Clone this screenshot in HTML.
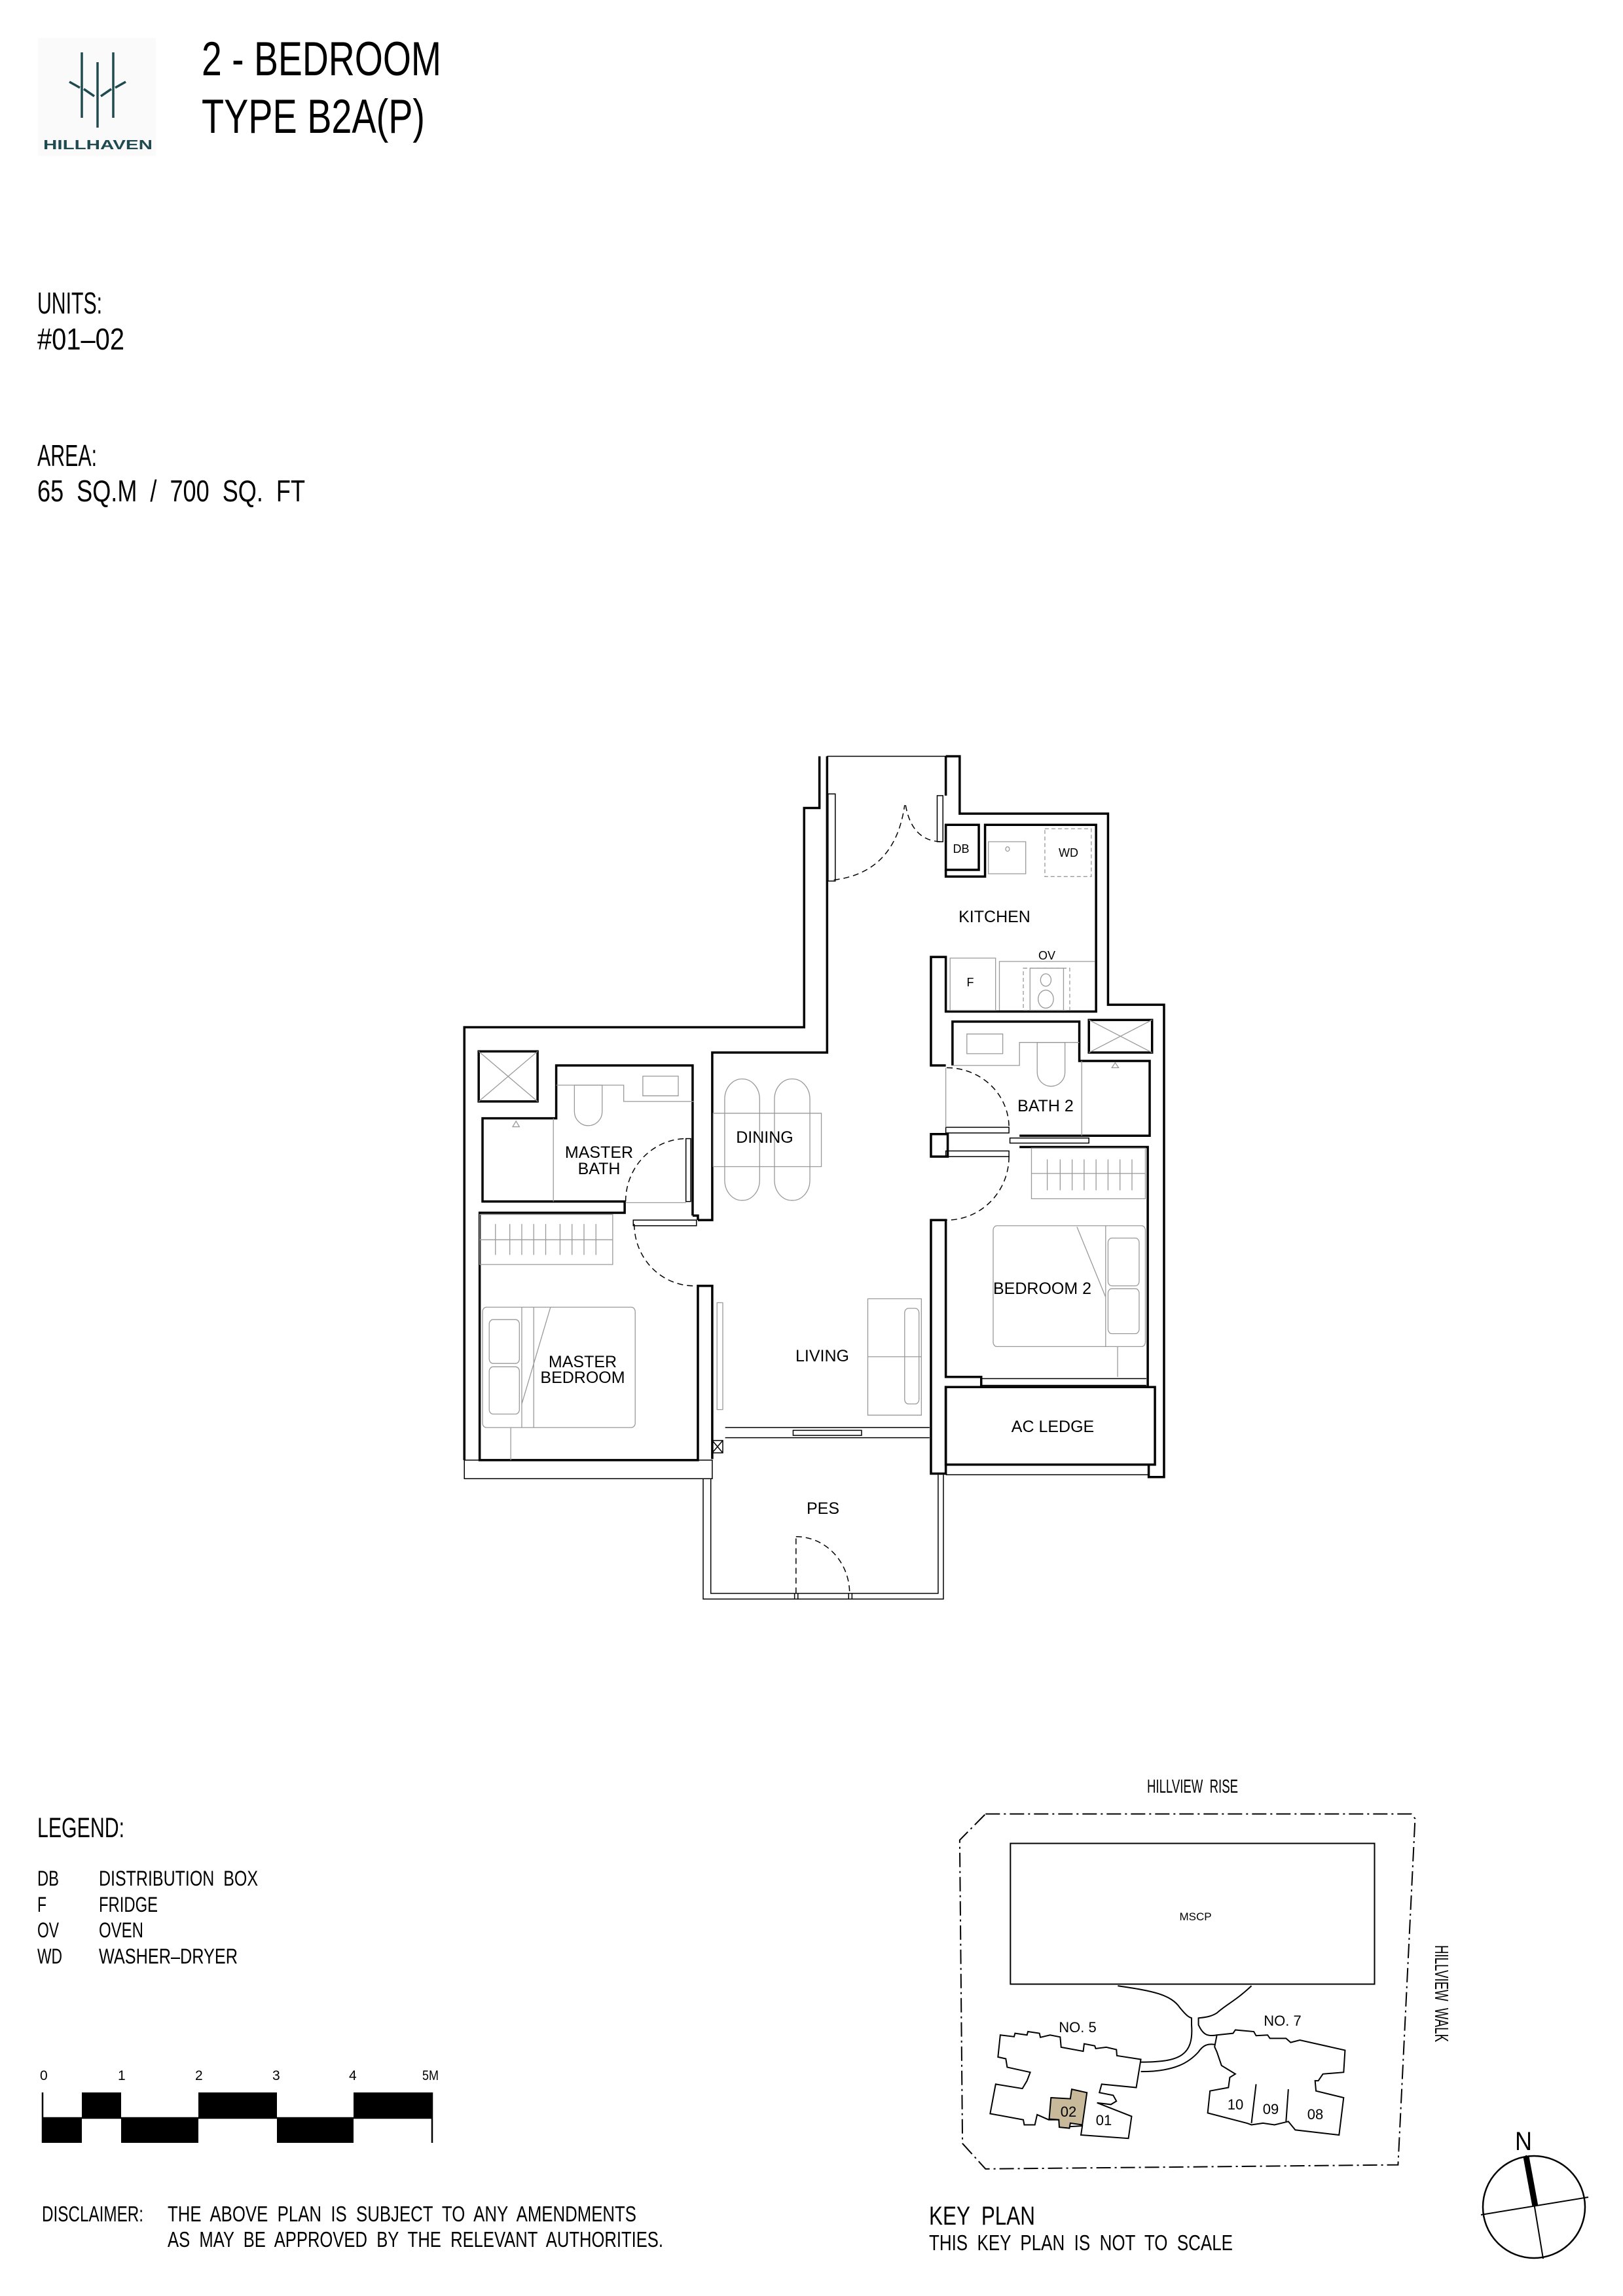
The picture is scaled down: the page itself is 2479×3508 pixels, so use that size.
<!DOCTYPE html>
<html><head><meta charset="utf-8"><style>
html,body{margin:0;padding:0;background:#fff}
svg{display:block}
text{font-family:"Liberation Sans",sans-serif;fill:#000}
.w{fill:none;stroke:#000;stroke-width:3.5;vector-effect:non-scaling-stroke;stroke-linejoin:miter}
.t{fill:none;stroke:#000;stroke-width:1.5;vector-effect:non-scaling-stroke}
.g{fill:none;stroke:#999;stroke-width:1.3;vector-effect:non-scaling-stroke}
.d{fill:none;stroke:#000;stroke-width:1.5;stroke-dasharray:9 6;vector-effect:non-scaling-stroke}
.gd{fill:none;stroke:#999;stroke-width:1.3;stroke-dasharray:6 4;vector-effect:non-scaling-stroke}
.k{fill:none;stroke:#000;stroke-width:2;vector-effect:non-scaling-stroke}
.kd{fill:none;stroke:#000;stroke-width:2;stroke-dasharray:22 6 3 6;vector-effect:non-scaling-stroke}
</style></head><body>
<svg width="2479" height="3508" viewBox="0 0 2479 3508" xmlns="http://www.w3.org/2000/svg">
<!-- Logo -->
<rect x="58" y="58" width="180" height="180" fill="#fafafa"/>
<g stroke="#1f4a50" stroke-width="3.5" fill="none">
<line x1="125" y1="80" x2="125" y2="180"/>
<line x1="149" y1="95" x2="149" y2="195"/>
<line x1="173" y1="80" x2="173" y2="180"/>
<line x1="106" y1="125" x2="122" y2="134"/>
<line x1="128" y1="136" x2="144" y2="147"/>
<line x1="154" y1="147" x2="170" y2="136"/>
<line x1="176" y1="134" x2="192" y2="125"/>
</g>
<text x="66" y="228" font-size="20" textLength="167" lengthAdjust="spacingAndGlyphs" style="fill:#1f4a50;font-weight:bold">HILLHAVEN</text>
<!-- Title -->
<text x="308" y="115" font-size="73" textLength="366" lengthAdjust="spacingAndGlyphs">2 - BEDROOM</text>
<text x="308" y="203" font-size="73" textLength="341" lengthAdjust="spacingAndGlyphs">TYPE B2A(P)</text>
<!-- Units / area -->
<text x="57" y="479" font-size="46" textLength="99" lengthAdjust="spacingAndGlyphs">UNITS:</text>
<text x="57" y="534" font-size="46" textLength="133" lengthAdjust="spacingAndGlyphs">#01–02</text>
<text x="57" y="712" font-size="46" textLength="91" lengthAdjust="spacingAndGlyphs">AREA:</text>
<text x="57" y="766" font-size="46" textLength="409" lengthAdjust="spacingAndGlyphs" xml:space="preserve">65  SQ.M  /  700  SQ.  FT</text>

<!-- FLOOR PLAN (drawn in zoom coords) -->
<g transform="translate(680,1140) scale(0.731,0.859)">
<path class="w" d="M782,18 V110 H750 V500 H40 V1270"/>
<path class="w" d="M798,18 V545 H558 V843 H528"/>
<path class="t" d="M798,18 H1046"/>
<path class="w" d="M517,835 V568 H232 V662 H78 V810 H375 V830 H72 V1270 H528 V960 H558 V1268"/>
<path class="w" d="M517,835 H528 V843"/>
<rect class="t" x="558" y="1235" width="22" height="22"/>
<path class="t" d="M558,1235 L580,1257 M580,1235 L558,1257"/>
<rect class="t" x="40" y="1270" width="518" height="33"/>
<line class="t" x1="72" y1="1303" x2="528" y2="1303"/>
<rect class="w" x="70" y="543" width="123" height="89"/>
<path class="g" d="M70,543 L193,632 M193,543 L70,632"/>
<rect class="w" x="1345" y="487" width="132" height="58"/>
<path class="g" d="M1345,487 L1477,545 M1477,487 L1345,545"/>
<rect class="t" x="503" y="698" width="10" height="112"/>
<path class="d" d="M377,810 A128,112 0 0 1 505,698"/>
<line class="g" x1="377" y1="812" x2="503" y2="812"/>
<rect class="t" x="393" y="843" width="132" height="10"/>
<path class="d" d="M395,850 A125,110 0 0 0 520,960"/>
<rect class="t" x="800" y="85" width="15" height="155"/>
<path class="d" d="M812,238 Q940,225 960,105"/>
<rect class="t" x="1028" y="88" width="12" height="82"/>
<path class="d" d="M962,105 Q975,168 1035,170"/>
<path class="w" d="M1046,18 H1075 V120 H1385 V460 H1502 V1300 H1470 V1278"/>
<path class="w" d="M1046,18 V88 M1046,140 H1115 V220 H1046 Z"/>
<path class="w" d="M1046,220 V232 H1128 V140 H1360 V472 H1046 V375 H1015 V568 H1046"/>
<path class="w" d="M1060,568 V490 H1325 V560 H1472 V693 H1200"/>
<path class="w" d="M1200,713 H1468 V1140"/>
<rect class="w" x="1015" y="690" width="35" height="40"/>
<rect class="t" x="1046" y="678" width="132" height="10"/>
<rect class="t" x="1046" y="720" width="132" height="10"/>
<path class="d" d="M1048,572 A130,106 0 0 1 1178,678"/>
<path class="d" d="M1178,730 A130,113 0 0 1 1046,843"/>
<rect class="t" x="1180" y="697" width="165" height="9"/>
<line class="g" x1="1046" y1="572" x2="1046" y2="678"/>
<path class="w" d="M1015,843 H1046 V1122 H1120 V1140 H1046 V1294 H1015 Z"/>
<rect class="w" x="1046" y="1140" width="437" height="138"/>
<path class="t" d="M1120,1125 H1465 M1120,1137 H1465"/>
<line class="t" x1="1046" y1="1296" x2="1470" y2="1296"/>
<path class="t" d="M585,1212 H1012 M585,1230 H1012"/>
<rect class="t" x="727" y="1217" width="143" height="9"/>
<!-- PES -->
<path class="t" d="M539,1303 V1517 H1041 V1296"/>
<path class="t" d="M555,1303 V1507 H1030 V1296"/>
<path class="t" d="M730,1507 V1517 M737,1507 V1517 M843,1507 V1517 M850,1507 V1517"/>
<path class="d" d="M733,1507 V1406"/>
<path class="d" d="M733,1406 A112,101 0 0 1 845,1507"/>
<!-- furniture -->
<rect class="g" x="560" y="653" width="226" height="95"/>
<rect class="g" x="584" y="592" width="73" height="216" rx="36"/>
<rect class="g" x="688" y="592" width="74" height="216" rx="36"/>
<rect class="g" x="78" y="998" width="319" height="214" rx="8"/>
<rect class="g" x="92" y="1020" width="63" height="78" rx="8"/>
<rect class="g" x="92" y="1104" width="63" height="84" rx="8"/>
<path class="g" d="M160,998 V1212 M160,1170 L220,998 M137,1212 V1270 M185,998 V1212"/>
<rect class="g" x="72" y="833" width="278" height="89"/>
<path class="g" d="M72,878 H350 M105,850 V905 M135,850 V905 M160,850 V905 M185,850 V905 M210,850 V905 M240,850 V905 M265,850 V905 M290,850 V905 M315,850 V905"/>
<rect class="g" x="883" y="983" width="112" height="207"/>
<rect class="g" x="960" y="1000" width="30" height="170" rx="8"/>
<line class="g" x1="883" y1="1086" x2="995" y2="1086"/>
<rect class="g" x="568" y="990" width="12" height="190"/>
<rect class="g" x="1145" y="853" width="318" height="215" rx="8"/>
<rect class="g" x="1385" y="875" width="65" height="85" rx="8"/>
<rect class="g" x="1385" y="965" width="65" height="80" rx="8"/>
<path class="g" d="M1380,853 V1068 M1320,855 L1380,980 M1405,1068 V1122"/>
<rect class="g" x="1225" y="715" width="238" height="90"/>
<path class="g" d="M1225,760 H1463 M1258,735 V790 M1285,735 V790 M1310,735 V790 M1335,735 V790 M1360,735 V790 M1385,735 V790 M1410,735 V790 M1435,735 V790"/>
<rect class="g" x="1135" y="170" width="78" height="57"/>
<circle class="g" cx="1175" cy="183" r="4"/>
<rect class="gd" x="1253" y="147" width="97" height="85"/>
<rect class="g" x="1055" y="377" width="95" height="93"/>
<path class="g" d="M1158,470 V383 H1358"/>
<rect class="gd" x="1208" y="395" width="97" height="75"/>
<rect class="g" x="1222" y="395" width="70" height="75"/>
<circle class="g" cx="1255" cy="416" r="11"/>
<circle class="g" cx="1255" cy="450" r="16"/>
<rect class="g" x="1090" y="512" width="75" height="35"/>
<path class="g" d="M1062,568 H1200 V527 H1325"/>
<path class="g" d="M1237,527 H1295 V580 A29,25 0 0 1 1237,580 Z"/>
<line class="g" x1="1330" y1="560" x2="1330" y2="693"/>
<path class="g" d="M1393,572 L1400,563 L1407,572 Z"/>
<rect class="g" x="413" y="587" width="74" height="35"/>
<path class="g" d="M232,603 H373 V632 H520"/>
<path class="g" d="M270,603 H328 V650 A29,25 0 0 1 270,650 Z"/>
<line class="g" x1="226" y1="662" x2="226" y2="810"/>
<path class="g" d="M141,677 L148,667 L155,677 Z"/>
</g>
<g font-size="18" text-anchor="middle">
<text x="1468" y="1303">DB</text>
<text x="1632" y="1309">WD</text>
<text x="1599" y="1466">OV</text>
<text x="1482" y="1507">F</text>
</g>
<g font-size="25" text-anchor="middle">
<text x="1519" y="1409">KITCHEN</text>
<text x="1168" y="1746">DINING</text>
<text x="915" y="1769">MASTER</text>
<text x="915" y="1794">BATH</text>
<text x="1597" y="1698">BATH 2</text>
<text x="1592" y="1977">BEDROOM 2</text>
<text x="1256" y="2080">LIVING</text>
<text x="890" y="2089">MASTER</text>
<text x="890" y="2113">BEDROOM</text>
<text x="1608" y="2188">AC LEDGE</text>
<text x="1257" y="2313">PES</text>
</g>

<!-- LEGEND -->
<text x="57" y="2807" font-size="43" textLength="133" lengthAdjust="spacingAndGlyphs">LEGEND:</text>
<g font-size="32">
<text x="57" y="2881" textLength="33" lengthAdjust="spacingAndGlyphs">DB</text>
<text x="151" y="2881" textLength="243" lengthAdjust="spacingAndGlyphs" xml:space="preserve">DISTRIBUTION  BOX</text>
<text x="57" y="2921" textLength="14" lengthAdjust="spacingAndGlyphs">F</text>
<text x="151" y="2921" textLength="90" lengthAdjust="spacingAndGlyphs">FRIDGE</text>
<text x="57" y="2960" textLength="33" lengthAdjust="spacingAndGlyphs">OV</text>
<text x="151" y="2960" textLength="68" lengthAdjust="spacingAndGlyphs">OVEN</text>
<text x="57" y="3000" textLength="38" lengthAdjust="spacingAndGlyphs">WD</text>
<text x="151" y="3000" textLength="212" lengthAdjust="spacingAndGlyphs">WASHER–DRYER</text>
</g>
<g font-size="21">
<text x="61" y="3178">0</text><text x="180" y="3178">1</text><text x="298" y="3178">2</text>
<text x="416" y="3178">3</text><text x="533" y="3178">4</text><text x="645" y="3178" textLength="25" lengthAdjust="spacingAndGlyphs">5M</text>
</g>
<g fill="#000">
<rect x="125" y="3197" width="60" height="39"/><rect x="303" y="3197" width="120" height="39"/><rect x="540" y="3197" width="120" height="39"/>
<rect x="65" y="3236" width="60" height="38"/><rect x="185" y="3236" width="118" height="38"/><rect x="423" y="3236" width="117" height="38"/>
</g>
<path d="M65,3197 V3274 M65,3236 H660 M660,3197 V3274" stroke="#000" stroke-width="2.5" fill="none"/>
<g font-size="33">
<text x="64" y="3394" textLength="155" lengthAdjust="spacingAndGlyphs">DISCLAIMER:</text>
<text x="256" y="3394" textLength="716" lengthAdjust="spacingAndGlyphs" xml:space="preserve">THE  ABOVE  PLAN  IS  SUBJECT  TO  ANY  AMENDMENTS</text>
<text x="256" y="3433" textLength="757" lengthAdjust="spacingAndGlyphs" xml:space="preserve">AS  MAY  BE  APPROVED  BY  THE  RELEVANT  AUTHORITIES.</text>
</g>

<!-- KEY PLAN -->
<text x="1752" y="2739" font-size="29" textLength="139" lengthAdjust="spacingAndGlyphs" xml:space="preserve">HILLVIEW  RISE</text>
<g transform="translate(1380,2700) scale(0.704,0.518)">
<path class="kd" d="M178,138 H1102 L1110,152 L1073,1173 L178,1185 L128,1110 L122,215 Z"/>
<rect class="k" x="232" y="225" width="790" height="415"/>
<path class="k" d="M465,645 C540,660 580,670 600,710 C615,735 620,738 625,740 V760 C630,850 600,870 515,870"/>
<path class="k" d="M755,645 C720,690 700,700 680,725 C665,738 650,738 640,740 V760 C650,790 660,795 680,790"/>
<path class="k" d="M515,898 C590,898 620,870 640,840 C650,820 660,815 675,818"/>
<path class="k" d="M210,790 L240,795 L242,785 L268,790 L270,780 L295,785 L297,797 L318,790 L340,796 L342,826 L390,838 L392,816 L415,822 L417,830 L440,826 L462,833 L463,851 L515,862 L505,945 L430,935 L425,960 L455,968 L462,985 L450,995 L420,990 L495,1030 L488,1095 L385,1085 L388,1058 L340,1062 L337,1040 L315,1040 L290,1025 L285,1055 L262,1055 L260,1040 L188,1022 L200,935 L258,948 L268,925 L275,900 L225,885 L222,860 L205,855 Z"/>
<path d="M320,975 L362,978 L365,950 L398,960 L388,1055 L362,1050 L360,1065 L338,1062 L337,1040 L316,1038 Z" fill="#c8b99a" stroke="#000" stroke-width="2" vector-effect="non-scaling-stroke"/>
<path class="k" d="M680,790 L715,785 L720,775 L760,780 L765,792 L790,790 L795,800 L830,800 L840,812 L860,805 L958,835 L955,900 L910,905 L900,925 L893,925 L895,955 L955,975 L945,1085 L850,1070 L835,1045 L805,1055 L780,1050 L755,1055 L745,1050 L660,1020 L665,955 L705,945 L708,915 L720,905 L690,880 L680,840 L675,825 Z"/>
<path class="k" d="M765,935 L755,1050 M835,950 L830,1045"/>
</g>
<g font-size="22" text-anchor="middle">
<text x="1826" y="2934" font-size="17">MSCP</text>
<text x="1646" y="3105">NO. 5</text>
<text x="1959" y="3095">NO. 7</text>
<text x="1632" y="3234">02</text>
<text x="1686" y="3247">01</text>
<text x="1887" y="3223">10</text>
<text x="1941" y="3230">09</text>
<text x="2009" y="3238">08</text>
</g>
<text transform="translate(2192,2972) rotate(90)" font-size="29" textLength="148" lengthAdjust="spacingAndGlyphs" xml:space="preserve">HILLVIEW  WALK</text>
<text x="1419" y="3399" font-size="40" textLength="162" lengthAdjust="spacingAndGlyphs" xml:space="preserve">KEY  PLAN</text>
<text x="1419" y="3438" font-size="33" textLength="464" lengthAdjust="spacingAndGlyphs" xml:space="preserve">THIS  KEY  PLAN  IS  NOT  TO  SCALE</text>
<circle cx="2343" cy="3372" r="78" fill="none" stroke="#000" stroke-width="2.5"/>
<line x1="2331" y1="3293" x2="2357" y2="3451" stroke="#000" stroke-width="2"/>
<line x1="2331" y1="3295" x2="2345" y2="3371" stroke="#000" stroke-width="9"/>
<line x1="2262" y1="3384" x2="2426" y2="3357" stroke="#000" stroke-width="2"/>
<text x="2327" y="3285" font-size="40" text-anchor="middle" textLength="26" lengthAdjust="spacingAndGlyphs">N</text>
</svg>
</body></html>
